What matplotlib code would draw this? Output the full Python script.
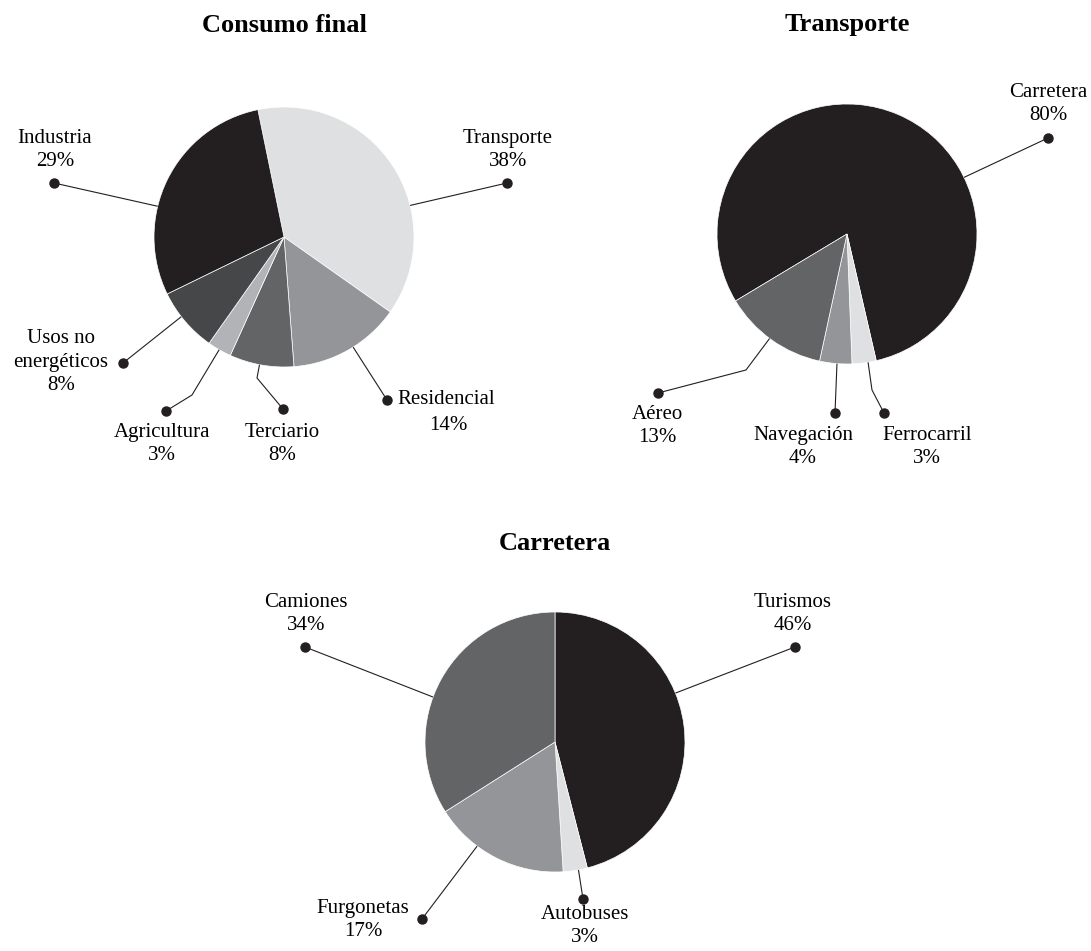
import numpy as np
import matplotlib
matplotlib.use("Agg")
import matplotlib.pyplot as plt

plt.rcParams['font.family'] = ['Liberation Serif', 'DejaVu Serif']

W, H = 1091, 951

# data
consumo_labels = ['Transporte', 'Residencial', 'Terciario', 'Agricultura', 'Usos no\nenergéticos', 'Industria']
consumo_values = [38, 14, 8, 3, 8, 29]

transporte_labels = ['Carretera', 'Ferrocarril', 'Navegación', 'Aéreo']
transporte_values = [80, 3, 4, 13]

carretera_labels = ['Turismos', 'Autobuses', 'Furgonetas', 'Camiones']
carretera_values = [46, 3, 17, 34]

dark = '#231f20'
light = '#dfe0e2'
mid = '#939598'
darkmid = '#636466'
darker = '#454749'
lightmid = '#b1b3b6'

fig = plt.figure(figsize=(W / 100, H / 100), dpi=100)
ax = fig.add_axes([0, 0, 1, 1])


def draw_pie(values, labels, colors, center, start, title, title_y, layout):
    cx, cy = center
    wedges, _ = ax.pie(values, colors=colors, startangle=start, counterclock=False,
                       radius=130, center=(cx, H - cy),
                       wedgeprops=dict(edgecolor='white', linewidth=0.5))
    ax.text(cx, H - title_y, title, ha='center', va='center', fontsize=19, fontweight='bold')
    for w, lab, val, (t, elbow, dot, txt, ha) in zip(wedges, labels, values, layout):
        ang = np.radians(w.theta1 + t * (w.theta2 - w.theta1))
        pts = [(cx + 130 * np.cos(ang), H - cy + 130 * np.sin(ang))]
        if elbow is not None:
            pts.append((elbow[0], H - elbow[1]))
        pts.append((dot[0], H - dot[1]))
        xs, ys = zip(*pts)
        ax.plot(xs, ys, color='#231f20', lw=0.8, solid_capstyle='butt')
        ax.plot(dot[0], H - dot[1], 'o', color='#231f20', ms=6.5)
        if ha == 'left':
            ax.text(txt[0], H - txt[1], lab, ha='left', va='center', fontsize=15)
            ax.text(txt[0] + 51, H - txt[1] - 25, f'{val}%', ha='center', va='center', fontsize=15)
        else:
            ax.text(txt[0], H - txt[1], f'{lab}\n{val}%', ha='center', va='center',
                    fontsize=15, linespacing=1.33)


# layout: (anchor fraction, elbow, dot, label center, align)
consumo_layout = [
    (0.36, None, (507, 183), (508, 150), 'center'),
    (0.55, None, (387, 400), (397, 400), 'left'),
    (0.47, (257, 378), (283, 409), (282, 444), 'center'),
    (0.49, (192, 395), (166, 411), (162, 444), 'center'),
    (0.41, None, (123, 363), (61, 362), 'center'),
    (0.62, None, (54, 183), (55, 150), 'center'),
]
transporte_layout = [
    (0.357, None, (1048, 138), (1048, 104), 'center'),
    (0.66, (872, 390), (884, 413), (927, 447), 'center'),
    (0.54, None, (835, 413), (803, 447), 'center'),
    (0.48, (746, 370), (658, 393), (657, 426), 'center'),
]
carretera_layout = [
    (0.59, None, (795, 647), (793, 614), 'center'),
    (0.63, None, (583, 899), (585, 926), 'center'),
    (0.34, None, (422, 919), (363, 920), 'center'),
    (0.57, None, (305, 647), (306, 614), 'center'),
]

draw_pie(consumo_values, consumo_labels, [light, mid, darkmid, lightmid, darker, dark],
         (284, 237), 101.6, 'Consumo final', 25, consumo_layout)
draw_pie(transporte_values, transporte_labels, [dark, light, mid, darkmid],
         (847, 234), 211, 'Transporte', 25, transporte_layout)
draw_pie(carretera_values, carretera_labels, [dark, light, mid, darkmid],
         (555, 742), 90, 'Carretera', 544, carretera_layout)

ax.set_aspect('equal')
ax.set_xlim(0, W)
ax.set_ylim(0, H)
ax.axis('off')

fig.savefig('out.png', dpi=100, facecolor='white')
